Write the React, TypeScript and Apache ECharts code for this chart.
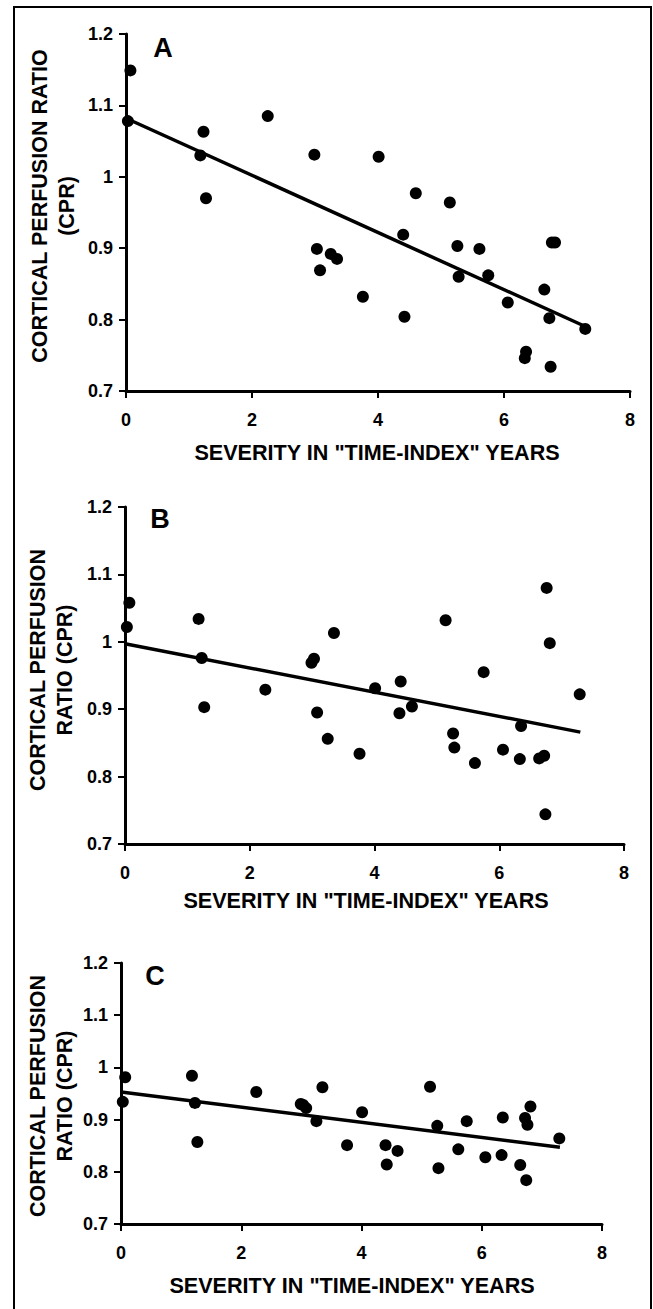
import React, { useEffect, useRef } from "react";
import * as echarts from "echarts";

// Shared x values (same subjects in all three panels)
const severity = [0.03, 0.07, 1.18, 1.23, 1.27, 2.25, 2.99, 3.03, 3.08, 3.25, 3.35, 3.76, 4.01, 4.4, 4.42, 4.6, 5.14, 5.26, 5.28, 5.61, 5.75, 6.06, 6.33, 6.35, 6.64, 6.72, 6.74, 6.76, 6.81, 7.29];
const cprA = [1.078, 1.149, 1.03, 1.063, 0.97, 1.085, 1.031, 0.899, 0.869, 0.892, 0.885, 0.832, 1.028, 0.919, 0.804, 0.977, 0.964, 0.903, 0.86, 0.899, 0.862, 0.824, 0.746, 0.755, 0.842, 0.802, 0.734, 0.908, 0.908, 0.787];
const cprB = [1.022, 1.058, 1.034, 0.976, 0.903, 0.929, 0.969, 0.975, 0.895, 0.856, 1.013, 0.834, 0.931, 0.894, 0.941, 0.904, 1.032, 0.864, 0.843, 0.82, 0.955, 0.84, 0.826, 0.875, 0.827, 0.831, 0.744, 1.08, 0.998, 0.922];
const cprC = [0.934, 0.981, 0.984, 0.932, 0.857, 0.953, 0.93, 0.928, 0.922, 0.897, 0.962, 0.851, 0.914, 0.851, 0.814, 0.84, 0.963, 0.888, 0.807, 0.843, 0.897, 0.828, 0.832, 0.904, 0.813, 0.903, 0.784, 0.89, 0.925, 0.864];

// Regression lines (endpoints)
const trendX = [0, 7.3];
const trendA = [1.082, 0.79];
const trendB = [0.997, 0.866];
const trendC = [0.953, 0.847];

const panelLetters = ["A", "B", "C"];
const xTitle = 'SEVERITY IN "TIME-INDEX" YEARS';
const yTitles = [
  "CORTICAL PERFUSION RATIO\n(CPR)",
  "CORTICAL PERFUSION\nRATIO (CPR)",
  "CORTICAL PERFUSION\nRATIO (CPR)",
];
const xMin = 0, xMax = 8, xStep = 2;
const yMin = 0.7, yMax = 1.2, yStep = 0.1;

const FONT = "'Liberation Sans', Arial, Helvetica, sans-serif";

export default function App() {
  const ref = useRef<HTMLDivElement>(null);
  useEffect(() => {
    if (!ref.current) return;
    const chart = echarts.init(ref.current, null, { renderer: "svg" });

    const grids = [
      { left: 126, top: 34, width: 504, height: 357 },
      { left: 125, top: 507, width: 499, height: 337 },
      { left: 121, top: 963, width: 481, height: 261 },
    ];
    const cprs = [cprA, cprB, cprC];
    const trends = [trendA, trendB, trendC];

    const axisLine = { show: true, lineStyle: { color: "#000", width: 3 } };
    const axisTick = { show: true, length: 7, lineStyle: { color: "#000", width: 2 } };
    const labelStyle = { color: "#000", fontWeight: "bold" as const, fontSize: 18, fontFamily: FONT };

    const xAxis = grids.map((_, i) => ({
      type: "value" as const,
      gridIndex: i,
      min: xMin,
      max: xMax,
      interval: xStep,
      axisLine,
      axisTick,
      splitLine: { show: false },
      axisLabel: { ...labelStyle, margin: 20 },
    }));
    const yAxis = grids.map((_, i) => ({
      type: "value" as const,
      gridIndex: i,
      min: yMin,
      max: yMax,
      interval: yStep,
      axisLine,
      axisTick,
      splitLine: { show: false },
      axisLabel: {
        ...labelStyle,
        margin: 13,
        formatter: (v: number) => String(Number(v.toFixed(1))),
      },
    }));

    const series: any[] = [];
    grids.forEach((_, i) => {
      series.push({
        type: "scatter",
        xAxisIndex: i,
        yAxisIndex: i,
        symbol: "circle",
        symbolSize: 12,
        itemStyle: { color: "#000", opacity: 1 },
        data: severity.map((x, k) => [x, cprs[i][k]]),
        z: 3,
      });
      series.push({
        type: "line",
        xAxisIndex: i,
        yAxisIndex: i,
        showSymbol: false,
        symbol: "none",
        lineStyle: { color: "#000", width: 3.5 },
        data: trendX.map((x, k) => [x, trends[i][k]]),
        z: 2,
      });
    });

    const xTitlePos = [
      { x: 377, y: 452 },
      { x: 366, y: 900 },
      { x: 352, y: 1285 },
    ];
    const yTitlePos = [
      { x: 53, y: 206 },
      { x: 51, y: 670 },
      { x: 51, y: 1096 },
    ];
    const letterPos = [
      { x: 163, y: 48 },
      { x: 160, y: 519 },
      { x: 155, y: 976 },
    ];

    const graphic: any[] = [
      {
        type: "rect",
        shape: { x: 14, y: 7, width: 637, height: 1330 },
        style: { fill: "none", stroke: "#000", lineWidth: 2 },
        silent: true,
      },
    ];
    grids.forEach((_, i) => {
      graphic.push({
        type: "text",
        x: xTitlePos[i].x,
        y: xTitlePos[i].y,
        style: {
          text: xTitle,
          font: `bold 21.6px ${FONT}`,
          fill: "#000",
          align: "center",
          verticalAlign: "middle",
        },
      });
      graphic.push({
        type: "text",
        x: yTitlePos[i].x,
        y: yTitlePos[i].y,
        rotation: Math.PI / 2,
        style: {
          text: yTitles[i],
          font: `bold 21.5px ${FONT}`,
          lineHeight: 27,
          fill: "#000",
          align: "center",
          verticalAlign: "middle",
        },
      });
      graphic.push({
        type: "text",
        x: letterPos[i].x,
        y: letterPos[i].y,
        style: {
          text: panelLetters[i],
          font: `bold 27px ${FONT}`,
          fill: "#000",
          align: "center",
          verticalAlign: "middle",
        },
      });
    });

    chart.setOption({
      animation: false,
      backgroundColor: "#fff",
      grid: grids,
      xAxis,
      yAxis,
      series,
      graphic,
    });
    return () => chart.dispose();
  }, []);
  return (
    <div
      ref={ref}
      style={{ position: "absolute", left: 0, top: 0, width: 653, height: 1309 }}
    />
  );
}
